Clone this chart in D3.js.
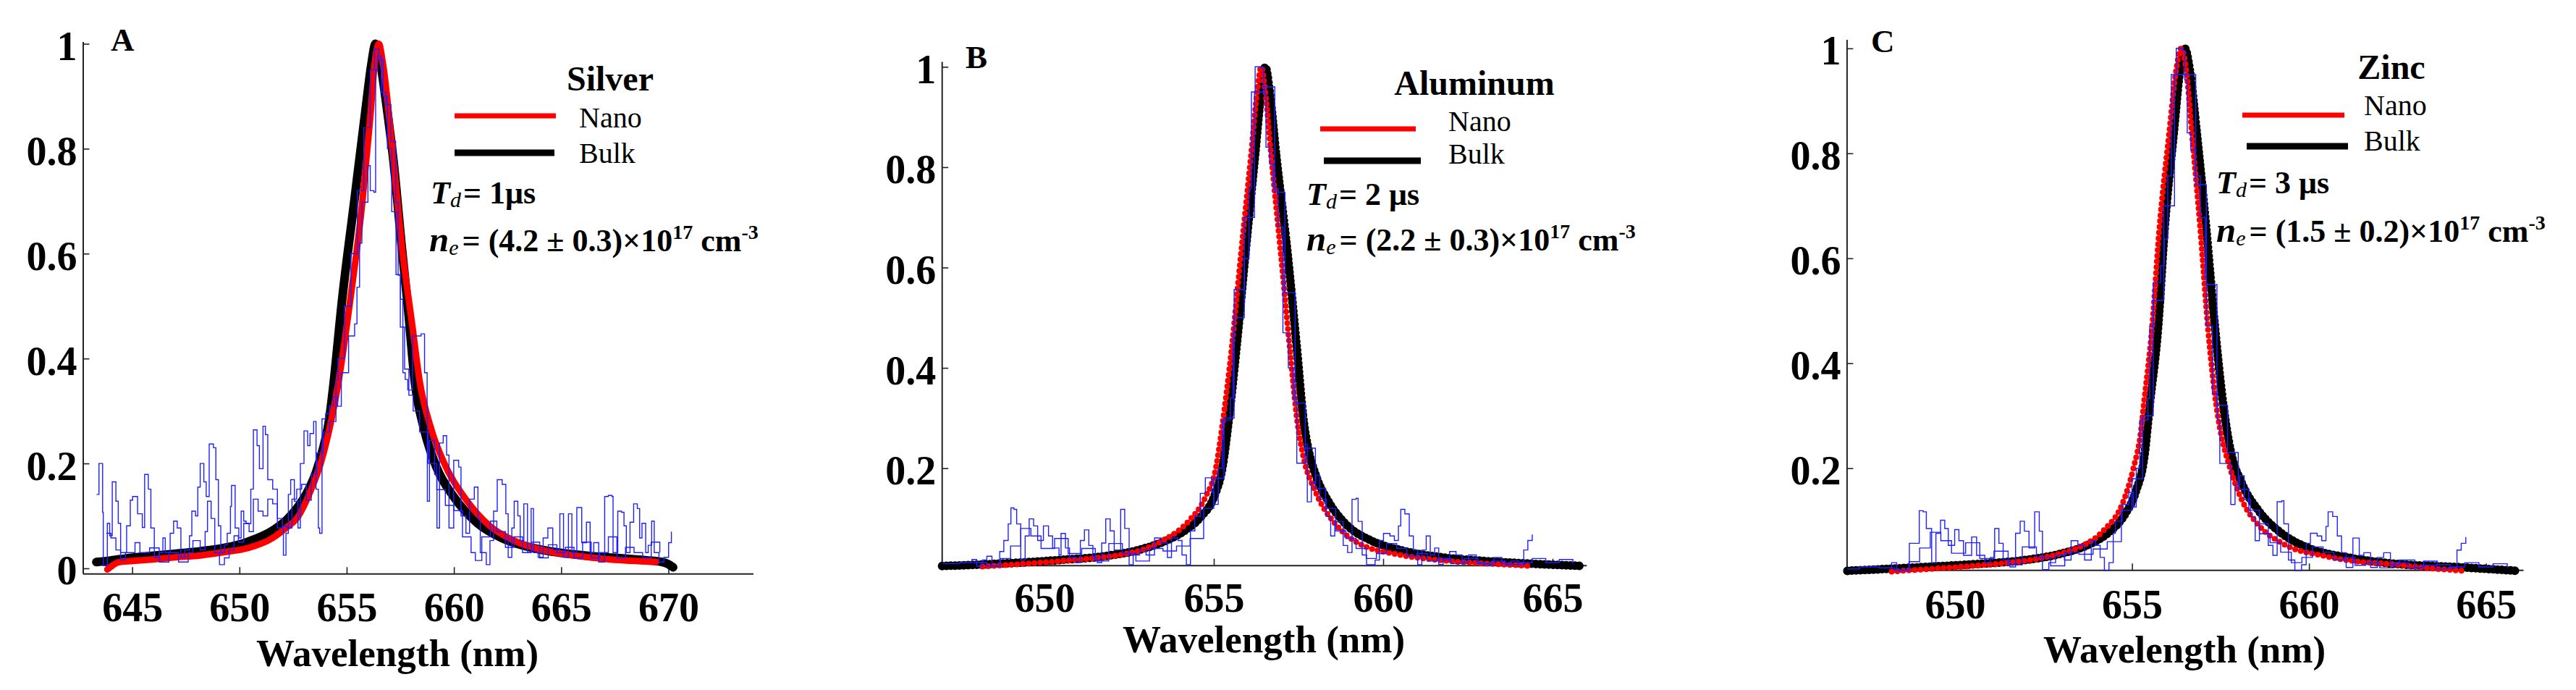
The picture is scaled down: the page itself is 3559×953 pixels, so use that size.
<!DOCTYPE html>
<html><head><meta charset="utf-8">
<script src="https://cdn.jsdelivr.net/npm/d3@7"></script>
<style>
html,body{margin:0;padding:0;background:#fff;}
svg{display:block;}
</style></head>
<body>
<svg id="fig" width="3559" height="953"></svg>
<script>
// ---------------- DATA ----------------
const panelLetters = ["A", "B", "C"];
const metals = ["Silver", "Aluminum", "Zinc"];
const delayLabels = ["= 1μs", "= 2 μs", "= 3 μs"];
const densityLabels = ["= (4.2 ± 0.3)×10", "= (2.2 ± 0.3)×10", "= (1.5 ± 0.2)×10"];
const densityExp = ["17", "17", "17"];
const legendNames = ["Nano", "Bulk"];
const xAxisTitle = "Wavelength (nm)";
const xTicksA = [645, 650, 655, 660, 665, 670];
const xTicksBC = [650, 655, 660, 665];
const yTicksA = [0, 0.2, 0.4, 0.6, 0.8, 1];
const yTicksBC = [0.2, 0.4, 0.6, 0.8, 1];

// Panel A – Silver
const silverBulk = [[643.33,0.012],[644.0,0.015],[644.8,0.0195],[646.0,0.024],[647.05,0.028],[648.17,0.0325],[649.3,0.039],[650.42,0.051],[651.55,0.072],[652.22,0.093],[652.67,0.114],[653.12,0.142],[653.57,0.183],[653.91,0.23],[654.19,0.285],[654.36,0.341],[654.79,0.513],[655.35,0.698],[655.91,0.884],[656.15,0.96],[656.35,1.0],[656.55,0.97],[656.8,0.9],[657.2,0.77],[657.55,0.62],[657.85,0.5],[658.18,0.355],[658.63,0.262],[659.19,0.1925],[659.98,0.137],[661.1,0.086],[662.23,0.058],[663.36,0.042],[664.48,0.0325],[665.61,0.0265],[666.73,0.022],[667.86,0.019],[668.98,0.0153],[669.66,0.0125],[670.0,0.008],[670.22,0.002]];
const silverNano = [[643.84,-0.002],[644.1,0.006],[644.35,0.0116],[645.0,0.014],[645.92,0.017],[647.0,0.021],[648.17,0.0246],[649.3,0.031],[650.42,0.039],[651.55,0.058],[652.2,0.078],[652.67,0.095],[653.35,0.151],[653.8,0.202],[654.25,0.276],[654.58,0.346],[655.17,0.513],[655.73,0.698],[656.1,0.86],[656.3,0.96],[656.5,1.0],[656.68,0.965],[657.15,0.791],[657.6,0.605],[658.05,0.466],[658.41,0.355],[658.97,0.262],[659.53,0.202],[660.55,0.132],[661.67,0.081],[662.8,0.053],[663.92,0.037],[665.61,0.0246],[667.3,0.017],[669.43,0.0125]];
const silverRaw1 = [[643.34,0.141],[643.45,0.20],[643.55,0.20],[643.62,0.107],[643.65,0.005],[643.84,0.086],[643.95,0.062],[644.07,0.165],[644.17,0.165],[644.24,0.128],[644.35,0.086],[644.46,0.030],[644.74,0.081],[644.91,0.13],[645.02,0.137],[645.15,0.137],[645.25,0.104],[645.47,0.078],[645.58,0.179],[645.75,0.151],[645.87,0.077],[646.03,0.021],[646.25,0.03],[646.43,0.058],[646.54,0.03],[646.77,0.067],[646.93,0.090],[647.10,0.077],[647.27,0.021],[647.45,0.035],[647.67,0.062],[647.78,0.109],[647.95,0.100],[648.06,0.155],[648.17,0.2],[648.34,0.165],[648.45,0.137],[648.59,0.237],[648.79,0.230],[648.90,0.169],[649.02,0.081],[649.13,0.03],[649.3,0.045],[649.43,0.067],[649.58,0.118],[649.63,0.158],[649.80,0.077],[649.97,0.058],[650.08,0.109],[650.2,0.09],[650.31,0.085],[650.53,0.151],[650.65,0.264],[650.82,0.234],[650.93,0.19],[651.10,0.271],[651.21,0.255],[651.32,0.169],[651.55,0.151],[651.77,0.077],[652.05,0.025],[652.17,0.067],[652.28,0.141],[652.39,0.169],[652.56,0.128],[652.73,0.077],[652.84,0.2],[653.01,0.262],[653.18,0.234],[653.29,0.257],[653.46,0.28],[653.57,0.151],[653.68,0.077],[653.74,0.067],[653.85,0.285],[654.02,0.295],[654.2,0.31],[654.36,0.327],[654.58,0.309],[654.75,0.373],[655.09,0.443],[655.37,0.466],[655.48,0.536],[655.6,0.62],[655.71,0.698],[655.99,0.768],[656.1,0.72],[656.27,0.717],[656.35,0.95],[656.44,0.977],[656.61,0.907],[656.83,0.884],[657.06,0.814],[657.28,0.698],[657.4,0.559],[657.51,0.513],[657.62,0.373],[657.73,0.36],[657.85,0.34],[658.07,0.443],[658.47,0.447],[658.63,0.373],[658.75,0.309],[658.76,0.128],[658.86,0.244],[659.1,0.179],[659.21,0.077],[659.33,0.239],[659.5,0.253],[659.66,0.216],[659.77,0.077],[659.99,0.206],[660.22,0.193],[660.33,0.1],[660.56,0.067],[660.73,0.132],[660.95,0.155],[661.12,0.095],[661.23,0.03],[661.51,0.007],[661.68,0.053],[661.85,0.109],[662.02,0.169],[662.25,0.16],[662.42,0.104],[662.53,0.021],[662.7,0.077],[662.81,0.128],[662.98,0.1],[663.09,0.053],[663.26,0.123],[663.43,0.03],[663.6,0.114],[663.71,0.03],[663.93,0.021],[664.16,0.058],[664.38,0.077],[664.61,0.035],[664.94,0.104],[665.11,0.021],[665.34,0.104],[665.5,0.03],[665.73,0.116],[665.96,0.049],[666.18,0.088],[666.35,0.03],[666.52,0.049],[666.75,0.012],[667.03,0.137],[667.2,0.139],[667.37,0.137],[667.42,0.03],[667.64,0.109],[667.81,0.107],[667.93,0.081],[668.04,0.03],[668.21,0.088],[668.38,0.123],[668.55,0.114],[668.66,0.058],[668.77,0.086],[668.94,0.03],[669.06,0.044],[669.22,0.09],[669.34,0.03],[669.56,0.012],[669.79,0.021],[670.01,0.049],[670.14,0.07]];
const silverRaw2 = [[643.79,0.067],[644.01,0.058],[644.24,0.035],[644.46,0.016],[644.69,0.03],[645.13,0.049],[645.36,0.03],[645.81,0.039],[646.26,0.012],[646.71,0.03],[647.16,0.012],[647.61,0.03],[647.83,0.053],[648.17,0.035],[648.4,0.07],[648.51,0.128],[648.68,0.095],[648.85,0.030],[649.07,0.007],[649.3,0.02],[649.52,0.035],[649.75,0.062],[649.95,0.05],[650.2,0.086],[650.45,0.07],[650.65,0.132],[650.87,0.109],[651.1,0.1],[651.32,0.132],[651.55,0.123],[651.77,0.095],[652.0,0.08],[652.22,0.077],[652.45,0.132],[652.67,0.151],[652.9,0.16],[653.12,0.13],[653.35,0.18],[653.6,0.22],[653.9,0.26],[654.2,0.28],[654.5,0.36],[654.6,0.4],[654.9,0.5],[655.2,0.6],[655.5,0.72],[655.8,0.84],[656.1,0.95],[656.3,0.99],[656.5,0.97],[656.7,0.9],[656.9,0.8],[657.1,0.68],[657.3,0.56],[657.5,0.46],[657.7,0.38],[657.9,0.33],[658.1,0.3],[658.4,0.26],[658.8,0.2],[659.2,0.15],[659.6,0.12],[660.0,0.11],[660.4,0.06],[660.8,0.03],[661.0,0.015],[661.3,0.06],[661.7,0.09],[662.0,0.07],[662.4,0.04],[662.8,0.06],[663.2,0.03],[663.6,0.05],[664.0,0.02],[664.4,0.045],[664.8,0.03],[665.2,0.04],[665.6,0.02],[666.0,0.05],[666.4,0.02],[666.8,0.03],[667.2,0.06],[667.6,0.02],[668.0,0.04],[668.4,0.03],[668.8,0.02],[669.2,0.05],[669.6,0.03]];

// Panel B – Aluminum
const aluminumBulk = [[646.98,0.005],[648.0,0.0077],[649.3,0.012],[650.49,0.0173],[651.75,0.0245],[652.75,0.0366],[653.5,0.053],[654.13,0.075],[654.63,0.104],[655.0,0.142],[655.25,0.2],[655.43,0.29],[655.67,0.441],[655.94,0.633],[656.22,0.825],[656.4,0.95],[656.52,1.0],[656.65,0.95],[656.84,0.825],[657.17,0.633],[657.45,0.441],[657.66,0.29],[657.8,0.235],[658.01,0.186],[658.39,0.133],[658.89,0.089],[659.64,0.056],[660.52,0.0366],[661.77,0.022],[663.02,0.015],[664.28,0.010],[665.9,0.0053]];
const aluminumNano = [[648.17,0.004],[649.3,0.009],[650.49,0.015],[651.5,0.021],[652.37,0.029],[653.0,0.04],[653.5,0.056],[654.25,0.094],[654.75,0.142],[655.06,0.2],[655.25,0.285],[655.53,0.441],[655.81,0.633],[656.10,0.825],[656.28,0.95],[656.40,1.0],[656.52,0.95],[656.69,0.825],[656.97,0.633],[657.24,0.441],[657.47,0.29],[657.64,0.224],[658.01,0.152],[658.64,0.085],[659.26,0.051],[660.52,0.027],[661.5,0.018],[662.39,0.0125],[663.3,0.009],[664.34,0.0053]];
const aluminumRaw1 = [[647.0,0.01],[647.5,0.012],[647.86,0.018],[648.0,0.005],[648.17,0.017],[648.3,0.0245],[648.45,0.005],[648.68,0.034],[648.8,0.056],[648.93,0.089],[649.01,0.121],[649.1,0.118],[649.18,0.089],[649.3,0.017],[649.43,0.065],[649.55,0.099],[649.68,0.085],[649.8,0.056],[649.97,0.085],[650.12,0.065],[650.24,0.041],[650.43,0.027],[650.49,0.07],[650.62,0.041],[650.74,0.022],[650.93,0.012],[651.06,0.056],[651.18,0.077],[651.31,0.046],[651.43,0.022],[651.56,0.012],[651.69,0.051],[651.81,0.099],[651.94,0.075],[652.06,0.037],[652.25,0.118],[652.37,0.08],[652.5,0.0077],[652.62,0.027],[652.81,0.037],[653.0,0.027],[653.25,0.061],[653.44,0.051],[653.63,0.022],[653.75,0.061],[653.94,0.056],[654.06,0.027],[654.19,0.0077],[654.31,0.075],[654.44,0.104],[654.6,0.15],[654.75,0.181],[654.94,0.152],[655.0,0.128],[655.13,0.2],[655.25,0.296],[655.49,0.34],[655.57,0.47],[655.6,0.556],[655.9,0.618],[656.04,0.758],[656.11,0.95],[656.22,1.0],[656.4,0.998],[656.47,0.946],[656.54,0.84],[656.65,0.806],[656.76,0.758],[656.9,0.681],[657.04,0.47],[657.2,0.4],[657.34,0.34],[657.45,0.21],[657.63,0.21],[657.7,0.248],[657.76,0.133],[657.88,0.171],[658.01,0.186],[658.13,0.138],[658.32,0.104],[658.45,0.065],[658.57,0.094],[658.82,0.046],[658.95,0.032],[659.08,0.138],[659.2,0.14],[659.26,0.094],[659.38,0.027],[659.51,0.0077],[659.76,0.017],[659.89,0.056],[660.01,0.07],[660.2,0.065],[660.33,0.056],[660.45,0.085],[660.52,0.118],[660.64,0.109],[660.77,0.065],[660.89,0.037],[661.02,0.0077],[661.14,0.037],[661.27,0.065],[661.39,0.027],[661.52,0.041],[661.64,0.008],[661.77,0.017],[661.96,0.034],[662.15,0.027],[662.33,0.0125],[662.52,0.027],[662.75,0.012],[663.02,0.0077],[663.27,0.022],[663.5,0.01],[663.77,0.015],[664.0,0.008],[664.15,0.037],[664.27,0.056],[664.4,0.068]];
const aluminumRaw2 = [[647.9,0.012],[648.3,0.005],[648.7,0.02],[649.0,0.045],[649.3,0.08],[649.6,0.065],[649.9,0.04],[650.3,0.06],[650.7,0.03],[651.1,0.04],[651.5,0.015],[651.9,0.05],[652.3,0.03],[652.7,0.015],[653.1,0.04],[653.5,0.035],[653.9,0.045],[654.3,0.06],[654.7,0.12],[655.0,0.18],[655.3,0.3],[655.6,0.5],[655.9,0.7],[656.2,0.95],[656.5,0.96],[656.8,0.75],[657.1,0.55],[657.4,0.33],[657.7,0.24],[658.0,0.16],[658.3,0.12],[658.6,0.075],[658.9,0.06],[659.2,0.04],[659.5,0.02],[659.8,0.03],[660.1,0.05],[660.4,0.04],[660.7,0.025],[661.0,0.03],[661.3,0.015],[661.6,0.02],[662.0,0.01],[662.4,0.02],[662.8,0.01],[663.2,0.015],[663.6,0.008],[664.0,0.012],[664.4,0.02],[664.8,0.012],[665.2,0.018],[665.6,0.01]];

// Panel C – Zinc
const zincBulk = [[646.96,0.0045],[647.96,0.0077],[649.2,0.012],[650.47,0.0169],[651.97,0.025],[652.97,0.0367],[653.72,0.0528],[654.35,0.078],[654.78,0.11],[655.1,0.154],[655.35,0.223],[655.5,0.32],[655.74,0.471],[655.92,0.655],[656.18,0.839],[656.36,0.96],[656.49,1.0],[656.63,0.96],[656.83,0.839],[657.1,0.655],[657.34,0.471],[657.58,0.32],[657.79,0.232],[658.1,0.172],[658.6,0.117],[659.23,0.0758],[659.98,0.048],[661.11,0.0298],[662.36,0.0183],[664.24,0.0114],[665.87,0.0045]];
const zincNano = [[648.21,0.0031],[649.3,0.008],[650.47,0.0137],[651.5,0.02],[652.35,0.0275],[653.0,0.038],[653.47,0.0482],[654.22,0.083],[654.72,0.131],[655.04,0.2],[655.25,0.27],[655.33,0.32],[655.57,0.471],[655.77,0.655],[656.05,0.839],[656.25,0.96],[656.39,1.0],[656.53,0.96],[656.69,0.839],[656.93,0.655],[657.14,0.471],[657.38,0.32],[657.5,0.27],[657.73,0.209],[658.1,0.14],[658.6,0.0896],[659.23,0.0574],[660.48,0.0321],[661.4,0.022],[662.36,0.017],[663.3,0.01],[664.37,0.0045]];
const zincRaw1 = [[646.96,0.008],[647.3,0.012],[647.86,0.01],[648.21,0.02],[648.35,0.005],[648.71,0.057],[648.85,0.057],[648.99,0.119],[649.1,0.117],[649.19,0.085],[649.34,0.02],[649.46,0.076],[649.59,0.101],[649.71,0.085],[649.81,0.053],[649.99,0.083],[650.11,0.062],[650.24,0.034],[650.47,0.069],[650.61,0.034],[650.84,0.02],[651.0,0.03],[651.12,0.085],[651.24,0.057],[651.36,0.025],[651.55,0.012],[651.71,0.076],[651.84,0.099],[651.96,0.08],[652.09,0.048],[652.25,0.117],[652.38,0.08],[652.47,0.007],[652.65,0.02],[652.84,0.034],[653.09,0.025],[653.28,0.062],[653.47,0.053],[653.66,0.025],[653.85,0.062],[653.97,0.053],[654.1,0.03],[654.22,0.005],[654.35,0.02],[654.47,0.076],[654.53,0.099],[654.72,0.131],[654.91,0.154],[655.04,0.126],[655.12,0.2],[655.22,0.292],[655.45,0.333],[655.5,0.471],[655.6,0.554],[655.81,0.586],[655.91,0.637],[656.01,0.757],[656.11,0.95],[656.25,1.0],[656.42,0.996],[656.49,0.94],[656.56,0.839],[656.66,0.807],[656.79,0.757],[656.93,0.678],[657.07,0.563],[657.1,0.471],[657.27,0.342],[657.41,0.292],[657.48,0.209],[657.66,0.209],[657.79,0.131],[657.91,0.168],[658.04,0.186],[658.17,0.14],[658.35,0.108],[658.48,0.062],[658.6,0.094],[658.85,0.053],[658.98,0.034],[659.1,0.136],[659.23,0.138],[659.29,0.094],[659.42,0.025],[659.6,0.005],[659.79,0.016],[659.92,0.057],[660.04,0.076],[660.23,0.071],[660.36,0.062],[660.48,0.089],[660.54,0.117],[660.67,0.108],[660.8,0.071],[660.92,0.039],[661.05,0.011],[661.24,0.067],[661.42,0.034],[661.55,0.039],[661.74,0.011],[661.93,0.03],[662.11,0.039],[662.3,0.016],[662.55,0.025],[662.99,0.011],[663.24,0.023],[663.62,0.016],[663.99,0.011],[664.18,0.044],[664.3,0.057],[664.43,0.069]];
const zincRaw2 = [[647.9,0.01],[648.3,0.006],[648.7,0.022],[649.0,0.048],[649.3,0.078],[649.6,0.062],[649.9,0.038],[650.3,0.058],[650.7,0.028],[651.1,0.042],[651.5,0.016],[651.9,0.05],[652.3,0.03],[652.7,0.014],[653.1,0.04],[653.5,0.036],[653.9,0.046],[654.3,0.06],[654.7,0.12],[655.0,0.18],[655.3,0.3],[655.6,0.52],[655.9,0.7],[656.2,0.95],[656.5,0.95],[656.8,0.74],[657.1,0.55],[657.4,0.32],[657.7,0.23],[658.0,0.16],[658.3,0.12],[658.6,0.075],[658.9,0.058],[659.2,0.04],[659.5,0.02],[659.8,0.03],[660.1,0.05],[660.4,0.04],[660.7,0.025],[661.0,0.03],[661.3,0.015],[661.6,0.02],[662.0,0.01],[662.4,0.02],[662.8,0.01],[663.2,0.015],[663.6,0.008],[664.0,0.012],[664.4,0.02],[664.8,0.012],[665.2,0.018],[665.6,0.01]];

// ---------------- LAYOUT ----------------
const FONT = "'Liberation Serif','Times New Roman',serif";
const panels = [
  { letter: panelLetters[0], metal: metals[0], delay: delayLabels[0], dens: densityLabels[0], exp: densityExp[0],
    bulk: silverBulk, nano: silverNano, raws: [silverRaw2, silverRaw1],
    xTicks: xTicksA, yTicks: yTicksA,
    xDom: [642.7, 673.95], xRng: [114.5, 1040.5], yDom: [-0.0101, 1.004], yRng: [792.3, 57.6],
    dotted: false, tickLab: 65.5,
    letterPos: [153, 70], titlePos: [843, 125], redLeg: [628, 768, 160], blkLeg: [628, 766, 211],
    nanoPos: [800, 176], bulkPos: [800, 225], tdPos: [595, 281], nePos: [593, 347], xlabPos: [549, 920] },
  { letter: panelLetters[1], metal: metals[1], delay: delayLabels[1], dens: densityLabels[1], exp: densityExp[1],
    bulk: aluminumBulk, nano: aluminumNano, raws: [aluminumRaw2, aluminumRaw1],
    xTicks: xTicksBC, yTicks: yTicksBC,
    xDom: [646.97, 666.0], xRng: [1301.2, 2191.8], yDom: [0.0066, 1.0107], yRng: [780.7, 84.9],
    dotted: true, tickLab: 64.5,
    letterPos: [1334, 94], titlePos: [2037, 131], redLeg: [1824, 1956, 178], blkLeg: [1829, 1963, 222],
    nanoPos: [2001, 181], bulkPos: [2001, 226], tdPos: [1805, 283], nePos: [1805, 346], xlabPos: [1746, 901] },
  { letter: panelLetters[2], metal: metals[2], delay: delayLabels[2], dens: densityLabels[2], exp: densityExp[2],
    bulk: zincBulk, nano: zincNano, raws: [zincRaw2, zincRaw1],
    xTicks: xTicksBC, yTicks: yTicksBC,
    xDom: [646.94, 666.05], xRng: [2551.4, 3486.0], yDom: [0.006, 1.017], yRng: [787.3, 54.5],
    dotted: true, tickLab: 66.5,
    letterPos: [2585, 72], titlePos: [3304, 109], redLeg: [3098, 3239, 159], blkLeg: [3104, 3244, 202],
    nanoPos: [3266, 159], bulkPos: [3266, 208], tdPos: [3062, 267], nePos: [3062, 334], xlabPos: [3018, 915] }
];

const svg = d3.select("#fig");
svg.append("rect").attr("width", 3559).attr("height", 953).attr("fill", "#fff");

panels.forEach(p => {
  const x = d3.scaleLinear().domain(p.xDom).range(p.xRng);
  const y = d3.scaleLinear().domain(p.yDom).range(p.yRng);
  const g = svg.append("g");

  // axes
  const xAxis = d3.axisBottom(x).tickValues(p.xTicks).tickSizeInner(-9).tickSizeOuter(0).tickFormat(d3.format("d"));
  const yAxis = d3.axisLeft(y).tickValues(p.yTicks).tickSizeInner(-9).tickSizeOuter(0).tickPadding(8).tickFormat(d3.format("~g"));
  const gx = g.append("g").attr("transform", `translate(0,${p.yRng[0]})`).call(xAxis);
  const gy = g.append("g").attr("transform", `translate(${p.xRng[0]},0)`).call(yAxis);
  [gx, gy].forEach(a => {
    a.select(".domain").attr("stroke", "#222").attr("stroke-width", 2);
    a.selectAll(".tick line").attr("stroke", "#222").attr("stroke-width", 1.6);
    a.selectAll("text").attr("font-family", FONT).attr("font-weight", "bold")
      .attr("font-size", 56).attr("fill", "#000");
  });
  gx.selectAll("text").attr("dy", null).attr("y", p.tickLab);
  gy.selectAll("text").attr("dy", null).attr("y", 22);

  // fit curves
  const line = d3.line().x(d => x(d[0])).y(d => y(d[1])).curve(d3.curveMonotoneX);
  const bulkPath = g.append("path").datum(p.bulk).attr("d", line)
    .attr("fill", "none").attr("stroke", "#000").attr("stroke-width", 12)
    .attr("stroke-linecap", "round").attr("stroke-linejoin", "round");
  const nanoPath = g.append("path").datum(p.nano).attr("d", line)
    .attr("fill", "none").attr("stroke", "#ff0000").attr("stroke-width", p.dotted ? 8 : 9)
    .attr("stroke-linecap", "round").attr("stroke-linejoin", "round");
  if (p.dotted) {
    bulkPath.attr("stroke-dasharray", "0 6");
    nanoPath.attr("stroke-dasharray", "0 8");
  }

  // raw experimental spectra
  const step = d3.line().x(d => x(d[0])).y(d => y(d[1])).curve(d3.curveStepAfter);
  p.raws.forEach(r => {
    g.append("path").datum(r).attr("d", step)
      .attr("fill", "none").attr("stroke", "#2020ff").attr("stroke-width", 1.4);
  });

  // panel letter
  g.append("text").attr("x", p.letterPos[0]).attr("y", p.letterPos[1])
    .attr("font-family", FONT).attr("font-weight", "bold").attr("font-size", 45).text(p.letter);

  // legend
  g.append("text").attr("x", p.titlePos[0]).attr("y", p.titlePos[1]).attr("text-anchor", "middle")
    .attr("font-family", FONT).attr("font-weight", "bold").attr("font-size", 48).text(p.metal);
  g.append("line").attr("x1", p.redLeg[0]).attr("x2", p.redLeg[1]).attr("y1", p.redLeg[2]).attr("y2", p.redLeg[2])
    .attr("stroke", "#ff0000").attr("stroke-width", 7);
  g.append("line").attr("x1", p.blkLeg[0]).attr("x2", p.blkLeg[1]).attr("y1", p.blkLeg[2]).attr("y2", p.blkLeg[2])
    .attr("stroke", "#000").attr("stroke-width", 9);
  g.append("text").attr("x", p.nanoPos[0]).attr("y", p.nanoPos[1])
    .attr("font-family", FONT).attr("font-size", 40).text(legendNames[0]);
  g.append("text").attr("x", p.bulkPos[0]).attr("y", p.bulkPos[1])
    .attr("font-family", FONT).attr("font-size", 40).text(legendNames[1]);

  // Td annotation
  const td = g.append("text").attr("x", p.tdPos[0]).attr("y", p.tdPos[1])
    .attr("font-family", FONT).attr("font-weight", "bold").attr("font-size", 44);
  td.append("tspan").attr("font-style", "italic").text("T");
  td.append("tspan").attr("font-style", "italic").attr("font-weight", "normal").attr("font-size", 30).attr("dy", 5).text("d");
  td.append("tspan").attr("dy", -5).attr("dx", 3).text(p.delay);

  // ne annotation
  const ne = g.append("text").attr("x", p.nePos[0]).attr("y", p.nePos[1])
    .attr("font-family", FONT).attr("font-weight", "bold").attr("font-size", 44);
  ne.append("tspan").attr("font-style", "italic").attr("font-size", 49).text("n");
  ne.append("tspan").attr("font-style", "italic").attr("font-weight", "normal").attr("font-size", 30).attr("dy", 5).text("e");
  ne.append("tspan").attr("dy", -5).attr("dx", 5).text(p.dens);
  ne.append("tspan").attr("font-size", 28).attr("dy", -17).text(p.exp);
  ne.append("tspan").attr("dy", 17).text(" cm");
  ne.append("tspan").attr("font-size", 28).attr("dy", -17).text("-3");

  // x-axis title
  g.append("text").attr("x", p.xlabPos[0]).attr("y", p.xlabPos[1]).attr("text-anchor", "middle")
    .attr("font-family", FONT).attr("font-weight", "bold").attr("font-size", 53).text(xAxisTitle);
});
</script>
</body></html>
